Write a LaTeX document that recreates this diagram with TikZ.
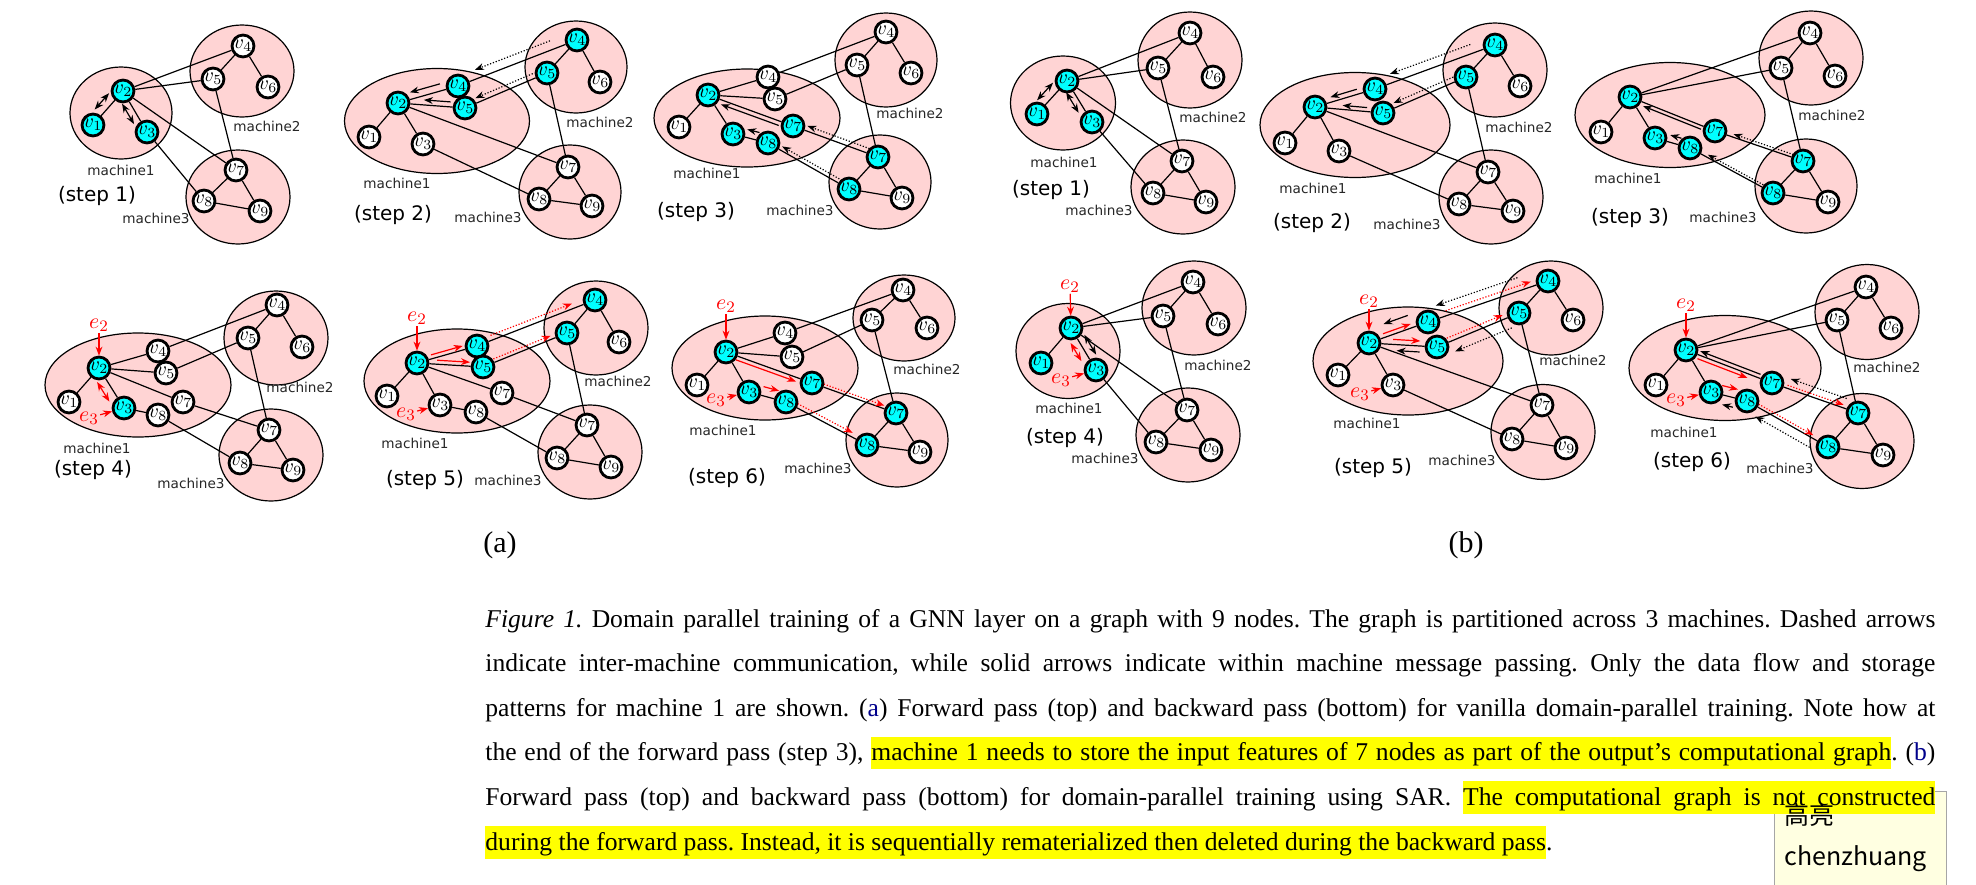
\documentclass[tikz,border=0pt]{standalone}
\usepackage[no-math]{fontspec}
\setmainfont{Liberation Serif}
\newfontfamily\dvs{DejaVu Sans}
\newfontfamily\cjkf{Noto Sans CJK SC}
\usetikzlibrary{calc,shapes.geometric,arrows.meta}
\definecolor{mpink}{RGB}{255,212,212}
\definecolor{vcyan}{RGB}{0,255,255}
\definecolor{hly}{RGB}{255,255,0}
\definecolor{lblue}{RGB}{0,0,140}
\definecolor{tipbg}{RGB}{255,255,225}
\pgfdeclarelayer{bg}
\pgfdeclarelayer{edges}
\pgfsetlayers{bg,edges,main}
\tikzset{
 vw/.style={circle,draw,line width=1.4pt,fill=white,inner sep=0pt,minimum size=9.6pt,font=\fontsize{10}{10}\selectfont},
 vc/.style={vw,fill=vcyan},
 mach/.style={ellipse,draw,line width=0.6pt,fill=mpink,inner sep=0pt},
 ed/.style={line width=0.6pt},
 arr/.style={line width=0.6pt,-{Stealth[length=4.5pt,width=3.4pt]}},
 darr/.style={line width=0.6pt,{Stealth[length=4.5pt,width=3.4pt]}-{Stealth[length=4.5pt,width=3.4pt]}},
 rarr/.style={arr,red},
 rdarr/.style={darr,red},
 dotarr/.style={arr,dash pattern=on 0.6pt off 0.9pt},
 rdot/.style={dotarr,red},
 mlab/.style={font=\dvs\fontsize{6.8}{7}\selectfont,inner sep=0pt,text=black!85},
 slab/.style={font=\dvs\fontsize{10}{10}\selectfont,inner sep=0pt},
 elab/.style={text=red,font=\fontsize{11}{11}\selectfont,inner sep=0.5pt},
 capl/.style={anchor=base west,inner sep=0pt,font=\fontsize{12.8}{15}\selectfont\frenchspacing},
}
\newcommand\V[4]{\node[#1] (#2) at (#3) {$v_{#4}$};}
\newcommand\E[2]{\draw[ed] (#1) -- (#2);}
\newcommand\OA[6]{\draw[#1] ($(#2)!#4!(#3)!#6!90:(#3)$) -- ($(#2)!#5!(#3)!#6!90:(#3)$);}
\newcommand\MM[4]{\node[mach,minimum width=#3pt,minimum height=#4pt] (#1) at (#2) {};}
\newcommand\INT[1]{\E{#1v4}{#1v5}\E{#1v4}{#1v6}\E{#1v7}{#1v8}\E{#1v7}{#1v9}\E{#1v8}{#1v9}\E{#1v5}{#1v7}}
\newcommand\hlw[1]{{\setlength\fboxsep{0pt}\colorbox{hly}{\rule[-4.3pt]{0pt}{16.3pt}#1}}}
\newcommand\hlsp{{\color{hly}\leaders\vrule height 12pt depth 4.3pt\hskip\fontdimen2\font plus\fontdimen3\font minus\fontdimen4\font}}
\ExplSyntaxOn
\seq_new:N \l_hlx_words_seq
\bool_new:N \l_hlx_first_bool
\NewDocumentCommand\HL{m}{
  \seq_set_split:Nnn \l_hlx_words_seq {~} {#1}
  \bool_set_true:N \l_hlx_first_bool
  \seq_map_inline:Nn \l_hlx_words_seq
    { \bool_if:NF \l_hlx_first_bool { \hlsp } \bool_set_false:N \l_hlx_first_bool \hlw{##1} }
}
\ExplSyntaxOff
\begin{document}
\begin{tikzpicture}[x=0.5pt,y=-0.5pt]
\useasboundingbox (0,0) rectangle (1976,884);
\begin{pgfonlayer}{bg}
\fill[white] (0,0) rectangle (1976,884);
% (a)
\MM{A1m1}{121,113}{51}{46}\MM{A1m2}{242,71}{52}{46}\MM{A1m3}{238,197}{52}{47}
\MM{A2m1}{437,121}{92.5}{52.5}\MM{A2m2}{576,67}{51}{46}\MM{A2m3}{570,192}{51}{47}
\MM{A3m1}{747,118}{93}{49}\MM{A3m2}{886,60}{51}{47}\MM{A3m3}{880,182}{51}{47}
\MM{A4m1}{138,385}{93}{52}\MM{A4m2}{276,338}{52}{47}\MM{A4m3}{271,455}{52}{46}
\MM{A5m1}{457,381}{93}{52}\MM{A5m2}{596,328}{52}{47}\MM{A5m3}{590,452}{52}{47}
\MM{A6m1}{765,368}{93}{52}\MM{A6m2}{904,318}{51}{43}\MM{A6m3}{897,440}{51}{47}
% (b)
\MM{B1m1}{1063,103}{52.5}{47}\MM{B1m2}{1190,60}{52}{48}\MM{B1m3}{1183,187}{52}{47}
\MM{B2m1}{1355,125}{95}{52.5}\MM{B2m2}{1495,70}{52}{47}\MM{B2m3}{1491,197}{52}{47}
\MM{B3m1}{1670,115}{95}{52.5}\MM{B3m2}{1811,58}{52}{47}\MM{B3m3}{1806,186}{51}{47}
\MM{B4m1}{1068,351}{52}{47.5}\MM{B4m2}{1194,308}{52}{47}\MM{B4m3}{1188,435}{52}{47}
\MM{B5m1}{1408,361}{95}{54}\MM{B5m2}{1551,308}{52}{47}\MM{B5m3}{1543,432}{52}{47.5}
\MM{B6m1}{1725,368}{96}{52.5}\MM{B6m2}{1867,312}{52}{47.5}\MM{B6m3}{1862,441}{52}{47.5}
% tooltip box (behind caption text)
\node[draw=black!35,fill=tipbg,line width=0.5pt,anchor=north west,minimum width=86pt,minimum height=47pt,inner sep=0pt] (tip) at (1774,791) {};
\end{pgfonlayer}
% ---------- A1
\V{vc}{A1v1}{93,125}{1}\V{vc}{A1v2}{123,91}{2}\V{vc}{A1v3}{147,132}{3}
\V{vw}{A1v4}{243,46}{4}\V{vw}{A1v5}{213,79}{5}\V{vw}{A1v6}{268,87}{6}
\V{vw}{A1v7}{236,170}{7}\V{vw}{A1v8}{204,201}{8}\V{vw}{A1v9}{260,211}{9}
\node[mlab] (A1l1) at (121,170) {machine1};
\node[mlab] (A1l2) at (267,126) {machine2};
\node[mlab] (A1l3) at (156,218) {machine3};
\node[slab] (A1s) at (97,196) {(step 1)};
% ---------- A2
\V{vc}{A2v2}{398,103}{2}\V{vc}{A2c4}{458,86}{4}\V{vc}{A2c5}{465,108}{5}
\V{vw}{A2v1}{369,137}{1}\V{vw}{A2v3}{423,144}{3}
\V{vc}{A2v4}{577,40}{4}\V{vc}{A2v5}{547,73}{5}\V{vw}{A2v6}{600,82}{6}
\V{vw}{A2v7}{568,167}{7}\V{vw}{A2v8}{539,199}{8}\V{vw}{A2v9}{592,206}{9}
\node[mlab] (A2l1) at (397,183) {machine1};
\node[mlab] (A2l2) at (600,122) {machine2};
\node[mlab] (A2l3) at (488,217) {machine3};
\node[slab] (A2s) at (393,215) {(step 2)};
% ---------- A3
\V{vc}{A3v2}{708,95}{2}\V{vw}{A3c4}{768,77}{4}\V{vw}{A3c5}{775,99}{5}
\V{vw}{A3v1}{679,127}{1}\V{vc}{A3v3}{733,134}{3}\V{vc}{A3c7}{793,126}{7}\V{vc}{A3c8}{768,143}{8}
\V{vw}{A3v4}{886,32}{4}\V{vw}{A3v5}{857,65}{5}\V{vw}{A3v6}{911,73}{6}
\V{vc}{A3v7}{878,157}{7}\V{vc}{A3v8}{849,189}{8}\V{vw}{A3v9}{902,198}{9}
\node[mlab] (A3l1) at (707,173) {machine1};
\node[mlab] (A3l2) at (910,113) {machine2};
\node[mlab] (A3l3) at (800,210) {machine3};
\node[slab] (A3s) at (696,212) {(step 3)};
% ---------- A4
\V{vc}{A4v2}{99,368}{2}\V{vw}{A4v1}{69,402}{1}\V{vc}{A4v3}{124,408}{3}
\V{vw}{A4c4}{158,351}{4}\V{vw}{A4c5}{166,373}{5}\V{vw}{A4c7}{183,402}{7}\V{vw}{A4c8}{158,415}{8}
\V{vw}{A4v4}{277,305}{4}\V{vw}{A4v5}{248,338}{5}\V{vw}{A4v6}{302,347}{6}
\V{vw}{A4v7}{269,430}{7}\V{vw}{A4v8}{240,463}{8}\V{vw}{A4v9}{293,470}{9}
\node[mlab] (A4l1) at (97,448) {machine1};
\node[mlab] (A4l2) at (300,387) {machine2};
\node[mlab] (A4l3) at (191,483) {machine3};
\node[slab] (A4s) at (93,470) {(step 4)};
\node[elab] (A4e2) at (99,325) {$e_2$};
\node[elab] (A4e3) at (89,418) {$e_3$};
% ---------- A5
\V{vc}{A5v2}{417,363}{2}\V{vc}{A5c4}{477,346}{4}\V{vc}{A5c5}{483,367}{5}
\V{vw}{A5v1}{387,396}{1}\V{vw}{A5v3}{440,405}{3}\V{vw}{A5c7}{502,393}{7}\V{vw}{A5c8}{476,412}{8}
\V{vc}{A5v4}{595,300}{4}\V{vc}{A5v5}{567,333}{5}\V{vw}{A5v6}{619,342}{6}
\V{vw}{A5v7}{587,425}{7}\V{vw}{A5v8}{557,458}{8}\V{vw}{A5v9}{611,467}{9}
\node[mlab] (A5l1) at (415,443) {machine1};
\node[mlab] (A5l2) at (618,381) {machine2};
\node[mlab] (A5l3) at (508,480) {machine3};
\node[slab] (A5s) at (425,480) {(step 5)};
\node[elab] (A5e2) at (417,318) {$e_2$};
\node[elab] (A5e3) at (406,414) {$e_3$};
% ---------- A6
\V{vc}{A6v2}{726,352}{2}\V{vw}{A6c4}{785,333}{4}\V{vw}{A6c5}{792,357}{5}
\V{vw}{A6v1}{697,385}{1}\V{vc}{A6v3}{749,392}{3}\V{vc}{A6c7}{812,383}{7}\V{vc}{A6c8}{786,402}{8}
\V{vw}{A6v4}{903,290}{4}\V{vw}{A6v5}{872,320}{5}\V{vw}{A6v6}{927,328}{6}
\V{vc}{A6v7}{896,413}{7}\V{vc}{A6v8}{867,445}{8}\V{vw}{A6v9}{920,452}{9}
\node[mlab] (A6l1) at (723,430) {machine1};
\node[mlab] (A6l2) at (927,369) {machine2};
\node[mlab] (A6l3) at (818,468) {machine3};
\node[slab] (A6s) at (727,478) {(step 6)};
\node[elab] (A6e2) at (726,306) {$e_2$};
\node[elab] (A6e3) at (716,400) {$e_3$};
% ---------- B1
\V{vc}{B1v1}{1037,114}{1}\V{vc}{B1v2}{1067,81}{2}\V{vc}{B1v3}{1092,122}{3}
\V{vw}{B1v4}{1190,33}{4}\V{vw}{B1v5}{1158,68}{5}\V{vw}{B1v6}{1213,77}{6}
\V{vw}{B1v7}{1182,161}{7}\V{vw}{B1v8}{1153,193}{8}\V{vw}{B1v9}{1206,202}{9}
\node[mlab] (B1l1) at (1064,162) {machine1};
\node[mlab] (B1l2) at (1213,117) {machine2};
\node[mlab] (B1l3) at (1099,210) {machine3};
\node[slab] (B1s) at (1051,190) {(step 1)};
% ---------- B2
\V{vc}{B2v2}{1315,107}{2}\V{vc}{B2c4}{1375,89}{4}\V{vc}{B2c5}{1383,113}{5}
\V{vw}{B2v1}{1285,143}{1}\V{vw}{B2v3}{1339,151}{3}
\V{vc}{B2v4}{1495,45}{4}\V{vc}{B2v5}{1466,77}{5}\V{vw}{B2v6}{1520,86}{6}
\V{vw}{B2v7}{1488,172}{7}\V{vw}{B2v8}{1459,204}{8}\V{vw}{B2v9}{1513,211}{9}
\node[mlab] (B2l1) at (1313,188) {machine1};
\node[mlab] (B2l2) at (1519,127) {machine2};
\node[mlab] (B2l3) at (1407,224) {machine3};
\node[slab] (B2s) at (1312,223) {(step 2)};
% ---------- B3
\V{vc}{B3v2}{1630,97}{2}\V{vw}{B3v1}{1601,132}{1}\V{vc}{B3v3}{1655,138}{3}
\V{vc}{B3c7}{1715,131}{7}\V{vc}{B3c8}{1690,148}{8}
\V{vw}{B3v4}{1810,33}{4}\V{vw}{B3v5}{1781,68}{5}\V{vw}{B3v6}{1835,76}{6}
\V{vc}{B3v7}{1803,161}{7}\V{vc}{B3v8}{1773,193}{8}\V{vw}{B3v9}{1828,202}{9}
\node[mlab] (B3l1) at (1628,178) {machine1};
\node[mlab] (B3l2) at (1832,115) {machine2};
\node[mlab] (B3l3) at (1723,217) {machine3};
\node[slab] (B3s) at (1630,218) {(step 3)};
% ---------- B4
\V{vc}{B4v2}{1071,328}{2}\V{vc}{B4v1}{1041,363}{1}\V{vc}{B4v3}{1096,370}{3}
\V{vw}{B4v4}{1193,282}{4}\V{vw}{B4v5}{1163,316}{5}\V{vw}{B4v6}{1218,324}{6}
\V{vw}{B4v7}{1187,410}{7}\V{vw}{B4v8}{1156,442}{8}\V{vw}{B4v9}{1211,450}{9}
\node[mlab] (B4l1) at (1069,408) {machine1};
\node[mlab] (B4l2) at (1218,365) {machine2};
\node[mlab] (B4l3) at (1105,458) {machine3};
\node[slab] (B4s) at (1065,438) {(step 4)};
\node[elab] (B4e2) at (1070,286) {$e_2$};
\node[elab] (B4e3) at (1061,380) {$e_3$};
% ---------- B5
\V{vc}{B5v2}{1369,343}{2}\V{vc}{B5c4}{1428,322}{4}\V{vc}{B5c5}{1437,347}{5}
\V{vw}{B5v1}{1338,375}{1}\V{vw}{B5v3}{1393,385}{3}
\V{vc}{B5v4}{1548,281}{4}\V{vc}{B5v5}{1519,313}{5}\V{vw}{B5v6}{1573,320}{6}
\V{vw}{B5v7}{1542,405}{7}\V{vw}{B5v8}{1512,439}{8}\V{vw}{B5v9}{1566,448}{9}
\node[mlab] (B5l1) at (1367,423) {machine1};
\node[mlab] (B5l2) at (1573,360) {machine2};
\node[mlab] (B5l3) at (1462,460) {machine3};
\node[slab] (B5s) at (1373,468) {(step 5)};
\node[elab] (B5e2) at (1369,301) {$e_2$};
\node[elab] (B5e3) at (1360,394) {$e_3$};
% ---------- B6
\V{vc}{B6v2}{1686,350}{2}\V{vw}{B6v1}{1656,385}{1}\V{vc}{B6v3}{1711,392}{3}
\V{vc}{B6c7}{1772,383}{7}\V{vc}{B6c8}{1747,401}{8}
\V{vw}{B6v4}{1866,287}{4}\V{vw}{B6v5}{1837,320}{5}\V{vw}{B6v6}{1891,328}{6}
\V{vc}{B6v7}{1858,413}{7}\V{vc}{B6v8}{1828,447}{8}\V{vw}{B6v9}{1883,455}{9}
\node[mlab] (B6l1) at (1684,432) {machine1};
\node[mlab] (B6l2) at (1887,367) {machine2};
\node[mlab] (B6l3) at (1780,468) {machine3};
\node[slab] (B6s) at (1692,462) {(step 6)};
\node[elab] (B6e2) at (1686,305) {$e_2$};
\node[elab] (B6e3) at (1676,400) {$e_3$};
% ---------- edges and arrows
\begin{pgfonlayer}{edges}
% A1
\E{A1v2}{A1v1}\E{A1v2}{A1v3}\E{A1v2}{A1v4}\E{A1v2}{A1v5}\E{A1v2}{A1v7}\E{A1v3}{A1v8}\INT{A1}
\OA{darr}{A1v2}{A1v1}{0.24}{0.72}{-4.5pt}
\OA{darr}{A1v2}{A1v3}{0.22}{0.72}{-3.6pt}
% A2
\E{A2v2}{A2v1}\E{A2v2}{A2v3}\E{A2v2}{A2c4}\E{A2v2}{A2c5}\E{A2c4}{A2v4}\E{A2c5}{A2v5}\E{A2v2}{A2v7}\E{A2v3}{A2v8}\INT{A2}
\OA{arr}{A2c4}{A2v2}{0.27}{0.77}{-3.5pt}
\OA{arr}{A2c5}{A2v2}{0.22}{0.62}{-2.5pt}
\OA{dotarr}{A2v4}{A2c4}{0.2}{0.83}{-4.5pt}
\OA{dotarr}{A2v5}{A2c5}{0.15}{0.85}{-2.5pt}
% A3
\E{A3v2}{A3v1}\E{A3v2}{A3v3}\E{A3v2}{A3c4}\E{A3v2}{A3c5}\E{A3c4}{A3v4}\E{A3c5}{A3v5}\E{A3v2}{A3c7}\E{A3c7}{A3v7}\E{A3v3}{A3c8}\E{A3c8}{A3v8}\INT{A3}
\OA{arr}{A3c7}{A3v2}{0.15}{0.83}{2.2pt}
\OA{arr}{A3c8}{A3v3}{0.3}{0.65}{-4pt}
\OA{dotarr}{A3v7}{A3c7}{0.12}{0.85}{-2.5pt}
\OA{dotarr}{A3v8}{A3c8}{0.08}{0.85}{-2pt}
% A4
\E{A4v2}{A4v1}\E{A4v2}{A4v3}\E{A4v2}{A4c4}\E{A4v2}{A4c5}\E{A4v2}{A4c7}\E{A4v3}{A4c8}\E{A4c4}{A4v4}\E{A4c5}{A4v5}\E{A4c7}{A4v7}\E{A4c8}{A4v8}\INT{A4}
\OA{rdarr}{A4v2}{A4v3}{0.23}{0.72}{-4.5pt}
\draw[rarr] (A4e2) -- (A4v2);
\draw[rarr] (A4e3) -- (A4v3);
% A5
\E{A5v2}{A5v1}\E{A5v2}{A5v3}\E{A5v2}{A5c4}\E{A5v2}{A5c5}\E{A5v2}{A5c7}\E{A5v3}{A5c8}\E{A5c4}{A5v4}\E{A5c5}{A5v5}\E{A5c7}{A5v7}\E{A5c8}{A5v8}\INT{A5}
\OA{rarr}{A5v2}{A5c4}{0.25}{0.78}{2pt}
\OA{rarr}{A5v2}{A5c5}{0.3}{0.8}{2pt}
\OA{rdot}{A5c4}{A5v4}{0.13}{0.82}{2.5pt}
\OA{rdot}{A5c5}{A5v5}{0.14}{0.82}{1.8pt}
\draw[rarr] (A5e2) -- (A5v2);
\draw[rarr] (A5e3) -- (A5v3);
% A6
\E{A6v2}{A6v1}\E{A6v2}{A6v3}\E{A6v2}{A6c4}\E{A6v2}{A6c5}\E{A6v2}{A6c7}\E{A6v3}{A6c8}\E{A6c4}{A6v4}\E{A6c5}{A6v5}\E{A6c7}{A6v7}\E{A6c8}{A6v8}\INT{A6}
\OA{rarr}{A6v2}{A6c7}{0.13}{0.83}{-2pt}
\OA{rarr}{A6v3}{A6c8}{0.33}{0.75}{4.5pt}
\OA{rdot}{A6c7}{A6v7}{0.13}{0.85}{1.5pt}
\OA{rdot}{A6c8}{A6v8}{0.12}{0.8}{2pt}
\draw[rarr] (A6e2) -- (A6v2);
\draw[rarr] (A6e3) -- (A6v3);
% B1
\E{B1v2}{B1v1}\E{B1v2}{B1v3}\E{B1v2}{B1v4}\E{B1v2}{B1v5}\E{B1v2}{B1v7}\E{B1v3}{B1v8}\INT{B1}
\OA{darr}{B1v2}{B1v1}{0.24}{0.77}{-4.6pt}
\OA{darr}{B1v2}{B1v3}{0.19}{0.69}{-3.3pt}
% B2
\E{B2v2}{B2v1}\E{B2v2}{B2v3}\E{B2v2}{B2c4}\E{B2v2}{B2c5}\E{B2c4}{B2v4}\E{B2c5}{B2v5}\E{B2v2}{B2v7}\E{B2v3}{B2v8}\INT{B2}
\OA{arr}{B2c4}{B2v2}{0.28}{0.72}{-2.5pt}
\OA{arr}{B2c5}{B2v2}{0.24}{0.6}{-2pt}
\OA{dotarr}{B2v4}{B2c4}{0.18}{0.85}{-4.5pt}
\OA{dotarr}{B2v5}{B2c5}{0.13}{0.85}{-2.5pt}
% B3
\E{B3v2}{B3v1}\E{B3v2}{B3v3}\E{B3v2}{B3v4}\E{B3v2}{B3v5}\E{B3v2}{B3c7}\E{B3c7}{B3v7}\E{B3v3}{B3c8}\E{B3c8}{B3v8}\INT{B3}
\OA{arr}{B3c7}{B3v2}{0.15}{0.83}{1.8pt}
\OA{arr}{B3c8}{B3v3}{0.3}{0.62}{-3.5pt}
\OA{dotarr}{B3v7}{B3c7}{0.12}{0.8}{-1.5pt}
\OA{dotarr}{B3v8}{B3c8}{0.1}{0.8}{-1.3pt}
% B4
\E{B4v2}{B4v1}\E{B4v2}{B4v3}\E{B4v2}{B4v4}\E{B4v2}{B4v5}\E{B4v2}{B4v7}\E{B4v3}{B4v8}\INT{B4}
\OA{rdarr}{B4v2}{B4v3}{0.26}{0.69}{-4pt}
\OA{darr}{B4v2}{B4v3}{0.26}{0.73}{4pt}
\draw[rarr] (B4e2) -- (B4v2);
\draw[rarr] (B4e3) -- (B4v3);
% B5
\E{B5v2}{B5v1}\E{B5v2}{B5v3}\E{B5v2}{B5c4}\E{B5v2}{B5c5}\E{B5c4}{B5v4}\E{B5c5}{B5v5}\E{B5v2}{B5v7}\E{B5v3}{B5v8}\INT{B5}
\OA{rarr}{B5v2}{B5c4}{0.26}{0.73}{2pt}
\OA{arr}{B5c4}{B5v2}{0.27}{0.68}{-6.5pt}
\OA{rarr}{B5v2}{B5c5}{0.35}{0.75}{2.5pt}
\OA{arr}{B5c5}{B5v2}{0.25}{0.59}{3pt}
\OA{rdot}{B5c4}{B5v4}{0.16}{0.87}{2.5pt}
\OA{dotarr}{B5v4}{B5c4}{0.22}{0.9}{-6.5pt}
\OA{rdot}{B5c5}{B5v5}{0.14}{0.82}{2.2pt}
\OA{dotarr}{B5v5}{B5c5}{0.14}{0.83}{5.5pt}
\draw[rarr] (B5e2) -- (B5v2);
\draw[rarr] (B5e3) -- (B5v3);
% B6
\E{B6v2}{B6v1}\E{B6v2}{B6v3}\E{B6v2}{B6v4}\E{B6v2}{B6v5}\E{B6v2}{B6c7}\E{B6c7}{B6v7}\E{B6v3}{B6c8}\E{B6c8}{B6v8}\INT{B6}
\OA{arr}{B6c7}{B6v2}{0.15}{0.85}{-2pt}
\OA{rarr}{B6v2}{B6c7}{0.15}{0.73}{-2pt}
\OA{rarr}{B6v3}{B6c8}{0.25}{0.69}{4.5pt}
\OA{arr}{B6c8}{B6v3}{0.33}{0.63}{4.75pt}
\OA{rdot}{B6c7}{B6v7}{0.17}{0.82}{1.5pt}
\OA{dotarr}{B6v7}{B6c7}{0.17}{0.82}{-5pt}
\OA{rdot}{B6c8}{B6v8}{0.125}{0.8}{1.5pt}
\OA{dotarr}{B6v8}{B6c8}{0.17}{0.84}{4.7pt}
\draw[rarr] (B6e2) -- (B6v2);
\draw[rarr] (B6e3) -- (B6v3);
\end{pgfonlayer}
% ---------- sub-figure labels
\node[font=\fontsize{15}{15}\selectfont,inner sep=0pt] (lba) at (500,545) {(a)};
\node[font=\fontsize{15}{15}\selectfont,inner sep=0pt] (lbb) at (1466,545) {(b)};
% ---------- caption
\node[capl] (c1) at (485,627) {\makebox[725pt][s]{\textit{Figure 1.} Domain parallel training of a GNN layer on a graph with 9 nodes. The graph is partitioned across 3 machines. Dashed arrows}};
\node[capl] (c2) at (485,671.6) {\makebox[725pt][s]{indicate inter-machine communication, while solid arrows indicate within machine message passing. Only the data flow and storage}};
\node[capl] (c3) at (485,716.2) {\makebox[725pt][s]{patterns for machine 1 are shown. (\textcolor{lblue}{a}) Forward pass (top) and backward pass (bottom) for vanilla domain-parallel training. Note how at}};
\node[capl] (c4) at (485,760.8) {\makebox[725pt][s]{the end of the forward pass (step 3), \HL{machine 1 needs to store the input features of 7 nodes as part of the output’s computational graph}. (\textcolor{lblue}{b})}};
\node[capl] (c5) at (485,805.4) {\makebox[725pt][s]{Forward pass (top) and backward pass (bottom) for domain-parallel training using SAR. \HL{The computational graph is not constructed}}};
\node[capl] (c6) at (485,850) {\HL{during the forward pass. Instead, it is sequentially rematerialized then deleted during the backward pass}.};
% ---------- tooltip texts
\node[anchor=west,inner sep=0pt,font=\cjkf\fontsize{12.5}{13}\selectfont] (tipa) at (1784,815) {高亮};
\node[anchor=west,inner sep=0pt,font=\cjkf\fontsize{12.5}{13}\selectfont] (tipb) at (1784,859) {chenzhuang};
\end{tikzpicture}
\end{document}
